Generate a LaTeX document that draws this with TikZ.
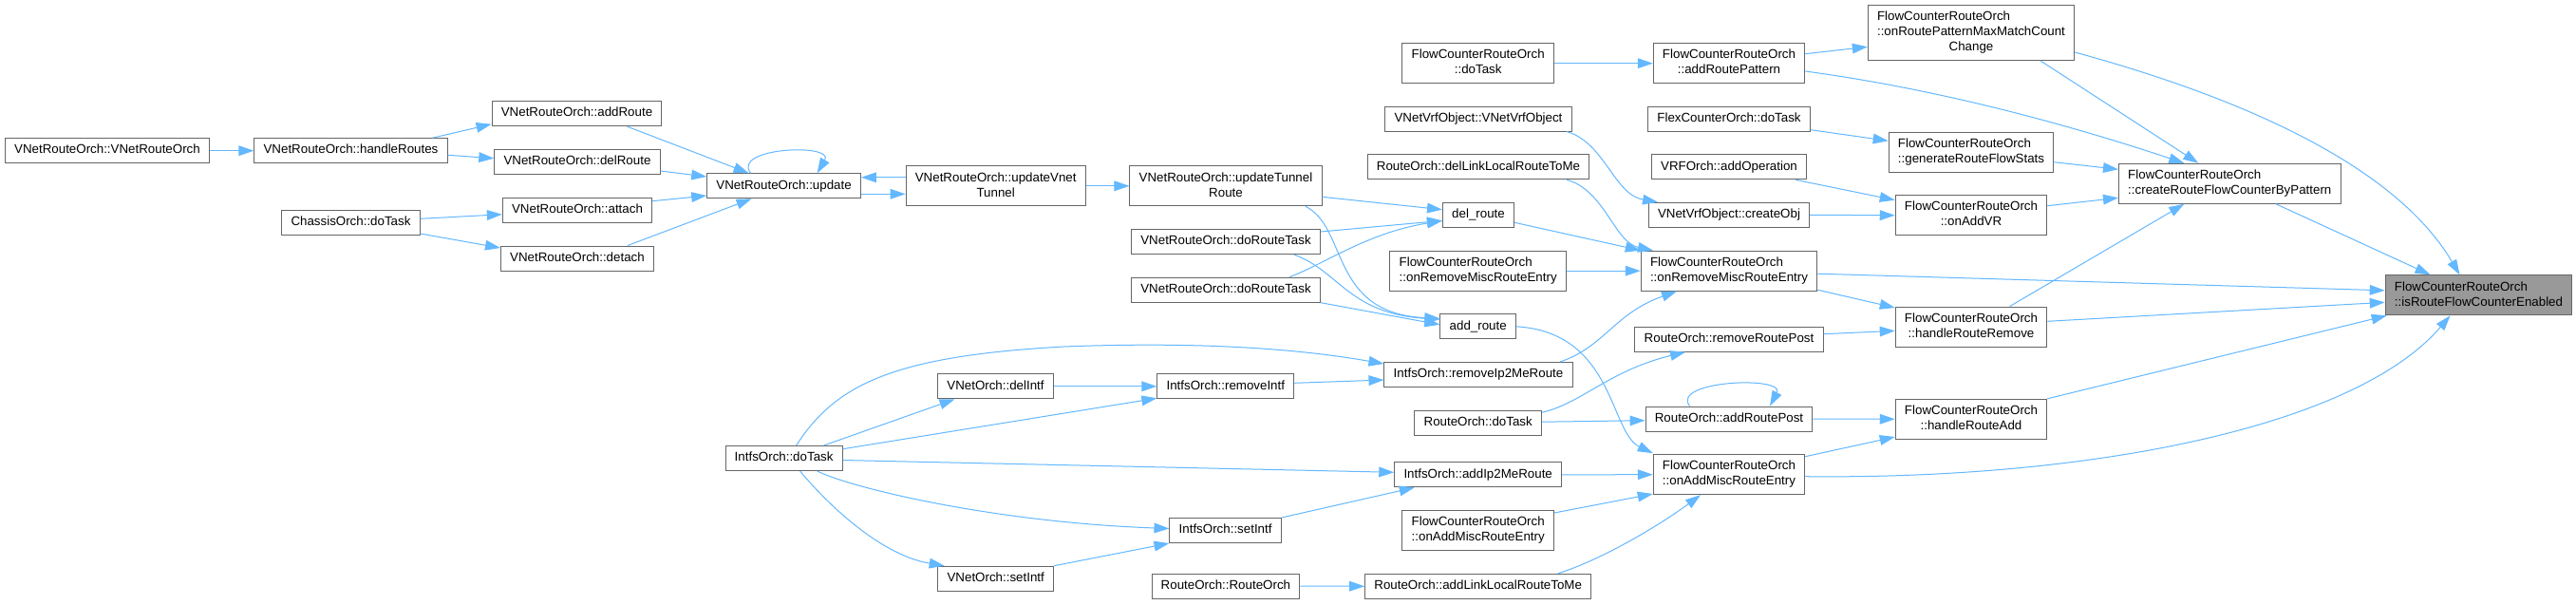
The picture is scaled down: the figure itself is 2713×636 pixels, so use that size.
\documentclass[tikz,border=0pt]{standalone}
\usepackage{fontspec}
\setmainfont{Liberation Sans}
\usetikzlibrary{arrows.meta,calc}
\definecolor{edgeblue}{HTML}{63B8FF}
\definecolor{boxborder}{HTML}{666666}
\definecolor{rootfill}{HTML}{999999}
\newcommand\oneL[1]{\begin{tabular}{@{}c@{}}#1\end{tabular}}
\newcommand\twoL[2]{\begin{tabular}{@{}c@{}}\multicolumn{1}{@{}l@{}}{#1}\\#2\end{tabular}}
\newcommand\threeL[3]{\begin{tabular}{@{}c@{}}\multicolumn{1}{@{}l@{}}{#1}\\\multicolumn{1}{@{}l@{}}{#2}\\#3\end{tabular}}
\begin{document}
\begin{tikzpicture}[x=0.75pt,y=-0.75pt,
  box/.style={rectangle, draw=boxborder, fill=white, line width=0.75pt, inner xsep=7.3pt, inner ysep=3.75pt, font=\fontsize{10pt}{12pt}\selectfont},
  root/.style={box, fill=rootfill},
  edge/.style={draw=edgeblue, line width=0.75pt, -{Triangle[length=12pt,width=8pt]}}]
\fill[white] (0,0) rectangle (2713,636);
\useasboundingbox (0,0) rectangle (2713,636);

% column 1-4
\node[box] (n1) at (113,158.7) {\oneL{VNetRouteOrch::VNetRouteOrch}};
\node[box] (n2) at (369.5,158.7) {\oneL{VNetRouteOrch::handleRoutes}};
\node[box] (n6) at (369.5,234.5) {\oneL{ChassisOrch::doTask}};
\node[box] (n3) at (607.5,119.7) {\oneL{VNetRouteOrch::addRoute}};
\node[box] (n4) at (608,170.5) {\oneL{VNetRouteOrch::delRoute}};
\node[box] (n5) at (608,221.2) {\oneL{VNetRouteOrch::attach}};
\node[box] (n7) at (608,272) {\oneL{VNetRouteOrch::detach}};
\node[box] (n8) at (825.6,195.8) {\oneL{VNetRouteOrch::update}};
\node[box] (n13) at (825.6,482.5) {\oneL{IntfsOrch::doTask}};
% column 5-6
\node[box] (n9) at (1048.7,195.8) {\twoL{VNetRouteOrch::updateVnet}{Tunnel}};
\node[box] (n14) at (1048.5,406.8) {\oneL{VNetOrch::delIntf}};
\node[box] (n17) at (1048.7,609.2) {\oneL{VNetOrch::setIntf}};
\node[box] (n10) at (1291,195.8) {\twoL{VNetRouteOrch::updateTunnel}{Route}};
\node[box] (n11) at (1291,254.7) {\oneL{VNetRouteOrch::doRouteTask}};
\node[box] (n12) at (1291,305.2) {\oneL{VNetRouteOrch::doRouteTask}};
\node[box] (n15) at (1290.8,406.8) {\oneL{IntfsOrch::removeIntf}};
\node[box] (n16) at (1290.6,558.5) {\oneL{IntfsOrch::setIntf}};
\node[box] (n18) at (1290.9,617) {\oneL{RouteOrch::RouteOrch}};
% column 7
\node[box] (n19) at (1556.7,66.7) {\twoL{FlowCounterRouteOrch}{::doTask}};
\node[box] (n20) at (1557,125) {\oneL{VNetVrfObject::VNetVrfObject}};
\node[box] (n21) at (1557,175.8) {\oneL{RouteOrch::delLinkLocalRouteToMe}};
\node[box] (n22) at (1557,226.3) {\oneL{del\_route}};
\node[box] (n23) at (1556.7,285.2) {\twoL{FlowCounterRouteOrch}{::onRemoveMiscRouteEntry}};
\node[box] (n24) at (1556.7,343.8) {\oneL{add\_route}};
\node[box] (n25) at (1557,394.5) {\oneL{IntfsOrch::removeIp2MeRoute}};
\node[box] (n26) at (1556.7,445.2) {\oneL{RouteOrch::doTask}};
\node[box] (n27) at (1556.7,499.8) {\oneL{IntfsOrch::addIp2MeRoute}};
\node[box] (n28) at (1556.7,558.7) {\twoL{FlowCounterRouteOrch}{::onAddMiscRouteEntry}};
\node[box] (n29) at (1556.7,617.3) {\oneL{RouteOrch::addLinkLocalRouteToMe}};
% column 8
\node[box] (n30) at (1821,66.7) {\twoL{FlowCounterRouteOrch}{::addRoutePattern}};
\node[box] (n31) at (1821,125) {\oneL{FlexCounterOrch::doTask}};
\node[box] (n32) at (1821,175.8) {\oneL{VRFOrch::addOperation}};
\node[box] (n33) at (1821,226.3) {\oneL{VNetVrfObject::createObj}};
\node[box] (n34) at (1821,285.2) {\twoL{FlowCounterRouteOrch}{::onRemoveMiscRouteEntry}};
\node[box] (n35) at (1821,357.2) {\oneL{RouteOrch::removeRoutePost}};
\node[box] (n36) at (1821,441) {\oneL{RouteOrch::addRoutePost}};
\node[box] (n37) at (1821,499.7) {\twoL{FlowCounterRouteOrch}{::onAddMiscRouteEntry}};
% column 9
\node[box] (n38) at (2076,34.5) {\threeL{FlowCounterRouteOrch}{::onRoutePatternMaxMatchCount}{Change}};
\node[box] (n39) at (2076,160) {\twoL{FlowCounterRouteOrch}{::generateRouteFlowStats}};
\node[box] (n40) at (2076,226.7) {\twoL{FlowCounterRouteOrch}{::onAddVR}};
\node[box] (n41) at (2076,344) {\twoL{FlowCounterRouteOrch}{::handleRouteRemove}};
\node[box] (n42) at (2076,441.3) {\twoL{FlowCounterRouteOrch}{::handleRouteAdd}};
% column 10-11
\node[box] (n43) at (2348.3,193.3) {\twoL{FlowCounterRouteOrch}{::createRouteFlowCounterByPattern}};
\node[root] (n44) at (2610.5,310.8) {\twoL{FlowCounterRouteOrch}{::isRouteFlowCounterEnabled}};

% edges, left part
\draw[edge] (n1.east) -- (n2.west);
\draw[edge] ($(n2.north)+(86,0)$) -- ($(n3.west)+(0,11)$);
\draw[edge] ($(n2.east)+(0,4.6)$) -- ($(n4.west)+(0,-3.8)$);
\draw[edge] ($(n6.east)+(0,-4.2)$) -- ($(n5.west)+(0,4.5)$);
\draw[edge] ($(n6.east)+(0,11.5)$) -- ($(n7.west)+(0,-11)$);
\draw[edge] ($(n3.south)+(53,0)$) -- ($(n8.north)+(-37,0)$);
\draw[edge] ($(n4.east)+(0,9.5)$) -- ($(n8.west)+(0,-9.8)$);
\draw[edge] ($(n5.east)+(0,-9.5)$) -- ($(n8.west)+(0,10.2)$);
\draw[edge] ($(n7.north)+(53,0)$) -- ($(n8.south)+(-34,0)$);
\draw[edge] ($(n8.north)+(-35,0)$) .. controls ($(n8.north)+(-56,-27)$) and ($(n8.north)+(54,-32)$) .. ($(n8.north)+(35,0)$);
\draw[edge] ($(n8.east)+(0,8.5)$) -- ($(n9.west)+(0,8.5)$);
\draw[edge] ($(n9.west)+(0,-9)$) -- ($(n8.east)+(0,-9)$);
\draw[edge] (n9.east) -- (n10.west);

% into del_route / add_route
\draw[edge] ($(n10.east)+(0,11.5)$) -- ($(n22.west)+(0,-5.6)$);
\draw[edge] ($(n11.east)+(0,-10.7)$) -- ($(n22.west)+(0,6)$);
\draw[edge] ($(n12.north)+(67,0)$) .. controls (1395,278) and (1440,245) .. ($(n22.west)+(0,6.2)$);
\draw[edge] ($(n10.south)+(84,0)$) .. controls (1420,240) and (1400,330) .. ($(n24.west)+(0,-8.5)$);
\draw[edge] ($(n11.south)+(72,0)$) .. controls (1410,285) and (1420,330) .. ($(n24.west)+(0,-7.5)$);
\draw[edge] ($(n12.east)+(0,13.5)$) -- ($(n24.west)+(0,-2)$);

% IntfsOrch::doTask fan
\draw[edge] ($(n13.north)+(13,0)$) .. controls (880,405) and (940,375) .. (1120,365) .. controls (1300,358) and (1400,373) .. ($(n25.west)+(0,-11.5)$);
\draw[edge] ($(n13.north)+(42,0)$) -- ($(n14.south)+(-43,0)$);
\draw[edge] ($(n13.east)+(0,-9.8)$) -- ($(n15.west)+(0,12.5)$);
\draw[edge] ($(n13.east)+(0,2)$) -- ($(n27.west)+(0,-2.5)$);
\draw[edge] ($(n13.south)+(35,0)$) .. controls (900,515) and (1050,550) .. ($(n16.west)+(0,-2)$);
\draw[edge] ($(n13.south)+(17,0)$) .. controls (875,535) and (930,585) .. ($(n17.north)+(-54,0)$);
\draw[edge] (n14.east) -- (n15.west);
\draw[edge] ($(n15.east)+(0,-3.5)$) -- ($(n25.west)+(0,5.5)$);
\draw[edge] (n17.north east) -- (n16.south west);
\draw[edge] (n16.north east) -- ($(n27.south)+(-67,0)$);
\draw[edge] (n18.east) -- (n29.west);

% column 7 -> 8
\draw[edge] (n19.east) -- (n30.west);
\draw[edge] ($(n20.south)+(93,0)$) .. controls (1690,150) and (1700,205) .. ($(n33.north)+(-75,0)$);
\draw[edge] ($(n21.south)+(93,0)$) .. controls (1690,200) and (1700,255) .. ($(n34.north)+(-80,0)$);
\draw[edge] ($(n22.east)+(0,8)$) -- (n34.north west);
\draw[edge] (n23.east) -- (n34.west);
\draw[edge] ($(n25.north)+(86,0)$) .. controls (1690,365) and (1700,330) .. ($(n34.south)+(-55,0)$);
\draw[edge] ($(n26.east)+(0,-11)$) .. controls (1665,425) and (1695,390) .. ($(n35.south)+(-46,0)$);
\draw[edge] ($(n26.east)+(0,-1)$) -- ($(n36.west)+(0,1.7)$);
\draw[edge] ($(n36.north)+(-41.5,0)$) .. controls ($(n36.north)+(-62,-27)$) and ($(n36.north)+(60,-32)$) .. ($(n36.north)+(43,0)$);
\draw[edge] (n24.east) .. controls (1700,350) and (1695,455) .. ($(n37.north west)+(0,-1)$);
\draw[edge] (n27.east) -- (n37.west);
\draw[edge] ($(n28.east)+(0,-18.7)$) -- ($(n37.west)+(0,20.3)$);
\draw[edge] ($(n29.north)+(84,0)$) .. controls (1685,590) and (1745,555) .. ($(n37.south)+(-30,0)$);

% column 8 -> 9
\draw[edge] ($(n30.east)+(0,-10)$) -- ($(n38.west)+(0,14.8)$);
\draw[edge] ($(n31.east)+(0,11.7)$) -- ($(n39.west)+(0,-11.7)$);
\draw[edge] ($(n32.south)+(70,0)$) -- ($(n40.west)+(0,-16)$);
\draw[edge] (n33.east) -- (n40.west);
\draw[edge] ($(n34.east)+(0,20)$) -- ($(n41.west)+(0,-20)$);
\draw[edge] ($(n35.east)+(0,-5.5)$) -- ($(n41.west)+(0,4.3)$);
\draw[edge] (n36.east) -- (n42.west);
\draw[edge] ($(n37.east)+(0,-19)$) -- ($(n42.west)+(0,18.7)$);

% into createRouteFlowCounterByPattern
\draw[edge] ($(n30.east)+(0,8.3)$) .. controls (2050,95) and (2190,135) .. ($(n43.north)+(-48,0)$);
\draw[edge] ($(n38.south)+(73,0)$) -- ($(n43.north)+(-33,0)$);
\draw[edge] ($(n39.east)+(0,10.7)$) -- ($(n43.west)+(0,-15)$);
\draw[edge] ($(n40.east)+(0,-10)$) -- ($(n43.west)+(0,15)$);
\draw[edge] ($(n41.north)+(40.7,0)$) -- ($(n43.south)+(-48,0)$);

% into isRouteFlowCounterEnabled
\draw[edge] ($(n38.east)+(0,20.5)$) .. controls (2350,100) and (2520,170) .. ($(n44.north)+(-20,0)$);
\draw[edge] ($(n43.south)+(48.7,0)$) -- ($(n44.north)+(-51,0)$);
\draw[edge] ($(n34.east)+(0,3)$) -- ($(n44.west)+(0,-5)$);
\draw[edge] ($(n41.east)+(0,-5.7)$) -- ($(n44.west)+(0,7.5)$);
\draw[edge] (n42.north east) -- ($(n44.south west)+(2,0)$);
\draw[edge] ($(n37.east)+(0,2)$) .. controls (2200,505) and (2480,450) .. ($(n44.south)+(-30,0)$);
\end{tikzpicture}
\end{document}
